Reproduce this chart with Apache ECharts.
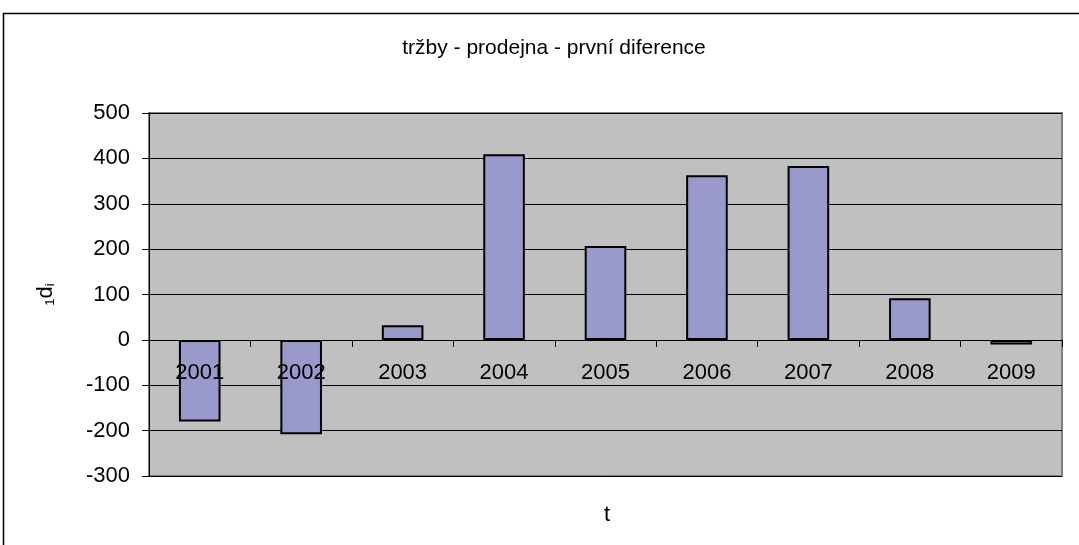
<!DOCTYPE html>
<html>
<head>
<meta charset="utf-8">
<script src="https://cdn.jsdelivr.net/npm/echarts@6/dist/echarts.min.js"></script>
<style>
  html, body { margin: 0; padding: 0; background: #fff; }
  #chart { width: 1079px; height: 545px; }
</style>
</head>
<body>
<div id="chart"></div>
<script>
// Year-on-year first differences of store sales
const years = ['2001', '2002', '2003', '2004', '2005', '2006', '2007', '2008', '2009'];
const firstDiff = [-180, -208, 32, 409, 207, 363, 383, 92, -10];
const yTicks = { min: -300, max: 500, step: 100 };

const FONT = '"Liberation Sans", Arial, sans-serif';
const GRID = { left: 149, right: 17, top: 113, bottom: 69 };
const CHART_H = 545;
// distance from the bottom of the plot up to the value-axis zero line
const plotH = CHART_H - GRID.top - GRID.bottom;
const zeroOffset = plotH * (0 - yTicks.min) / (yTicks.max - yTicks.min);

const chart = echarts.init(document.getElementById('chart'), null, { renderer: 'canvas' });

chart.setOption({
  animation: false,
  backgroundColor: '#ffffff',
  textStyle: { fontFamily: FONT },
  title: {
    text: 'tržby - prodejna - první diference',
    left: 549,
    top: 33,
    textAlign: 'center',
    textStyle: { fontFamily: FONT, fontSize: 21, fontWeight: 'normal', color: '#000' }
  },
  graphic: [
    {
      type: 'rect',
      silent: true,
      shape: { x: 3.5, y: 13.5, width: 1100, height: 600 },
      style: { fill: 'none', stroke: '#000', lineWidth: 1.5 },
      z: -10
    },
    {
      type: 'text',
      silent: true,
      left: 604,
      top: 504,
      style: { text: 't', font: '22px ' + FONT, fill: '#000' }
    }
  ],
  grid: {
    left: GRID.left,
    right: GRID.right,
    top: GRID.top,
    bottom: GRID.bottom,
    show: true,
    backgroundColor: '#c0c0c0',
    borderColor: '#808080',
    borderWidth: 2
  },
  xAxis: {
    type: 'category',
    data: years,
    z: 5,
    offset: -zeroOffset,
    axisLine: { onZero: false, lineStyle: { color: '#000', width: 1 } },
    axisTick: { show: true, length: 7, lineStyle: { color: '#000' } },
    axisLabel: { color: '#000', fontSize: 22, fontFamily: FONT, margin: 22 },
    splitLine: { show: false }
  },
  yAxis: {
    type: 'value',
    min: yTicks.min,
    max: yTicks.max,
    interval: yTicks.step,
    name: '{sub|1}{d|d}{sub|i}',
    nameLocation: 'middle',
    nameGap: 92,
    nameRotate: 90,
    nameTextStyle: {
      rich: {
        d: { fontSize: 22, fontFamily: FONT, color: '#000', verticalAlign: 'bottom' },
        sub: { fontSize: 13, fontFamily: FONT, color: '#000', verticalAlign: 'bottom', padding: [10, 0, 0, 0] }
      }
    },
    axisLine: { show: true, lineStyle: { color: '#000', width: 1 } },
    axisTick: { show: true, length: 7, lineStyle: { color: '#000' } },
    axisLabel: { color: '#000', fontSize: 22, fontFamily: FONT, margin: 19 },
    splitLine: { show: true, lineStyle: { color: '#000', width: 1 } }
  },
  series: [{
    type: 'bar',
    data: firstDiff,
    barWidth: '41%',
    itemStyle: { color: '#9999cc', borderColor: '#000', borderWidth: 2 },
    z: 2
  }]
});
</script>
</body>
</html>
